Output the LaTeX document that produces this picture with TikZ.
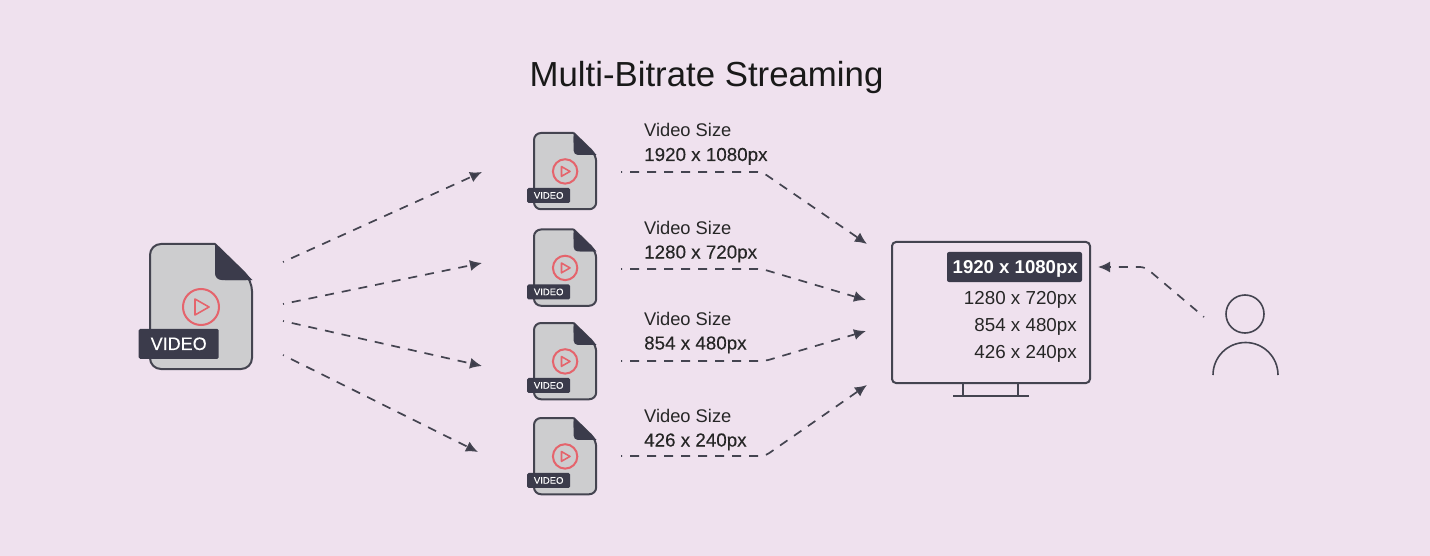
\documentclass[tikz,border=0pt]{standalone}
\usepackage{fontspec}
\setmainfont{Liberation Sans}
\usetikzlibrary{arrows.meta}
\definecolor{bgc}{HTML}{EFE1EE}
\definecolor{inkc}{HTML}{3B3B4B}
\definecolor{bodyc}{HTML}{CDCDCF}
\definecolor{redc}{HTML}{E5646C}
\definecolor{linec}{HTML}{444450}
\tikzset{
  conn/.style={draw=linec,line width=1.7pt,rounded corners=5pt,dash pattern=on 9pt off 8pt,dash phase=8pt,-{Latex[length=12pt,width=11pt,fill=inkc]}},
  txt/.style={inner sep=0pt,anchor=base west,text=black!85},
  rtxt/.style={inner sep=0pt,anchor=base east,text=black!85},
  mon/.style={draw=linec,line width=2pt}
}
\newcommand{\fsz}[1]{\fontsize{#1pt}{#1pt}\selectfont}
\newcommand{\med}{\addfontfeature{FakeBold=0.2}}
% #1 name, #2 x, #3 y, #4 scale, #5 corner radius, #6 label font, #7 label width, #8 circle radius, #9 label height
\newcommand{\fileicon}[9]{%
  \begin{scope}[shift={(#2,#3)},scale=#4]
    \draw[draw=linec,fill=bodyc,line width=2pt,rounded corners=#5] (65,0) -- (0,0) -- (0,125) -- (102,125) -- (102,36) -- (65,0);
    \fill[inkc,rounded corners=#5*0.6] (65,-0.5) -- (102.5,36) -- (65,36) -- cycle;
    \fill[inkc] (65,-0.5) -- (102.5,36) -- (75,36) -- (65,15) -- cycle;
    \draw[redc,line width=2pt] (51,63) circle (#8);
    \draw[redc,line width=1.6pt,line join=round] (45,55) -- (45,71) -- (59,63) -- cycle;
    \node[fill=inkc,rounded corners=1.5pt,minimum width=#7,minimum height=#9,inner sep=0pt,text=white,anchor=south west] (#1) at (-11.5,115) {#6{}VIDEO};
  \end{scope}%
}
\begin{document}
\begin{tikzpicture}[x=1pt,y=-1pt]
\useasboundingbox (0,0) rectangle (1430,556);
\fill[bgc] (0,0) rectangle (1430,556);

\node[inner sep=0pt,text=black!90] (title) at (706.5,78) {\fsz{34.8}Multi-Bitrate Streaming};

\fileicon{big}{150}{244}{1}{11pt}{\fsz{18}\med}{80pt}{18}{30pt}
\fileicon{fa}{534}{133}{0.61}{7pt}{\fsz{9.5}\med}{43pt}{20}{15pt}
\fileicon{fb}{534}{229.5}{0.61}{7pt}{\fsz{9.5}\med}{43pt}{20}{15pt}
\fileicon{fc}{534}{323}{0.61}{7pt}{\fsz{9.5}\med}{43pt}{20}{15pt}
\fileicon{fd}{534}{418}{0.61}{7pt}{\fsz{9.5}\med}{43pt}{20}{15pt}

% size labels
\node[txt] (la1) at (644,137) {\fsz{18.3}Video Size};
\node[txt] (la2) at (644,161) {\fsz{18.8}\med 1920 x 1080px};
\node[txt] (lb1) at (644,234.5) {\fsz{18.3}Video Size};
\node[txt] (lb2) at (644,258.5) {\fsz{18.8}\med 1280 x 720px};
\node[txt] (lc1) at (644,325.5) {\fsz{18.3}Video Size};
\node[txt] (lc2) at (644,349.5) {\fsz{18.8}\med 854 x 480px};
\node[txt] (ld1) at (644,422) {\fsz{18.3}Video Size};
\node[txt] (ld2) at (644,446.5) {\fsz{18.8}\med 426 x 240px};

% monitor
\draw[mon,rounded corners=4pt] (892,242) rectangle (1090,383);
\draw[mon] (963,383) -- (963,395) (1018,383) -- (1018,395);
\draw[mon] (953,395.5) -- (1029,395.5);
\fill[inkc,rounded corners=2pt] (947,252) rectangle (1082,282);
\node[rtxt,text=white] (ma) at (1078,273.5) {\fsz{18.6}\bfseries 1920 x 1080px};
\node[rtxt] (mb) at (1077,304) {\fsz{18.8}1280 x 720px};
\node[rtxt] (mc) at (1077,331) {\fsz{18.8}854 x 480px};
\node[rtxt] (md) at (1077,358) {\fsz{18.8}426 x 240px};

% user
\draw[draw=linec,line width=1.6pt] (1245,314) circle (19);
\draw[draw=linec,line width=1.6pt] (1213,375) arc[start angle=180,end angle=360,radius=32.5];

% connector ends
\coordinate (s1) at (283,262); \coordinate (e1) at (482,172);
\coordinate (s2) at (283,304); \coordinate (e2) at (482,263);
\coordinate (s3) at (283,321); \coordinate (e3) at (482,366);
\coordinate (s4) at (283,355); \coordinate (e4) at (478,452);
\draw[conn] (s1) -- (e1);
\draw[conn] (s2) -- (e2);
\draw[conn] (s3) -- (e3);
\draw[conn] (s4) -- (e4);

\coordinate (a1) at (621,172); \coordinate (b1) at (762,172); \coordinate (c1) at (867,244);
\coordinate (a2) at (621,269); \coordinate (b2) at (762,269); \coordinate (c2) at (866,300);
\coordinate (a3) at (621,361); \coordinate (b3) at (765,361); \coordinate (c3) at (866,331);
\coordinate (a4) at (621,456); \coordinate (b4) at (765,456); \coordinate (c4) at (867,385);
\draw[conn] (a1) -- (b1) -- (c1);
\draw[conn] (a2) -- (b2) -- (c2);
\draw[conn] (a3) -- (b3) -- (c3);
\draw[conn] (a4) -- (b4) -- (c4);

\coordinate (u1) at (1204,317); \coordinate (u2) at (1145,267); \coordinate (u3) at (1098,267);
\draw[conn] (u1) -- (u2) -- (u3);
\end{tikzpicture}
\end{document}
